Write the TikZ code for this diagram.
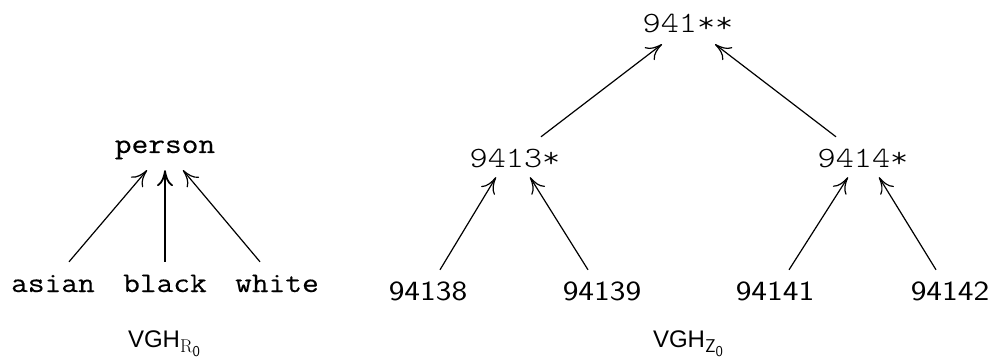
\documentclass[tikz,border=0pt]{standalone}
\usepackage{graphicx}
\usepackage{fontspec}
\newfontfamily\helv{Liberation Sans}
\newfontfamily\lmlight{Latin Modern Mono Light}
\newfontfamily\courfont[FakeBold=0.3]{Latin Modern Mono}
\usetikzlibrary{arrows.meta}
\newcommand\cour[1]{\scalebox{1.14}[1]{\fontsize{28.5}{30}\selectfont\courfont #1}}
\newcommand\lite[1]{\scalebox{1.17}[1]{\fontsize{29.5}{32}\selectfont\lmlight #1}}
\newcommand\sfd[1]{\scalebox{1.2}[1]{\fontsize{27.8}{30}\selectfont\sffamily #1}}
\newcommand\vghlab[1]{{\helv\fontsize{24}{26}\selectfont VGH}\raisebox{-5pt}{\fontsize{18.5}{19}\selectfont #1\raisebox{-4pt}{\sffamily\fontsize{15}{15}\selectfont 0}}}
\begin{document}
\begin{tikzpicture}[x=1pt,y=-1pt,
  lab/.style={inner sep=0pt, anchor=base},
  ptop/.style={lab, text height=17pt, text depth=17pt},
  pbot/.style={lab, text height=30pt, text depth=5pt},
  rtop/.style={lab, text height=18pt, text depth=11pt},
  rmid/.style={lab, text height=31pt, text depth=9pt},
  rbot/.style={lab, text height=31pt, text depth=5pt},
  arr/.style={line width=1.2pt, -{Computer Modern Rightarrow[length=16pt,width=16pt,line width=1.2pt]}},
  tharr/.style={line width=2.8pt, -{Computer Modern Rightarrow[length=16pt,width=16pt,line width=1.8pt]}}]
\useasboundingbox (0,0) rectangle (999,358);
% left hierarchy
\node[ptop] (person) at (165,153) {\cour{person}};
\node[pbot] (asian) at (53,292) {\cour{asian}};
\node[pbot] (black) at (165,292) {\cour{black}};
\node[pbot] (white) at (277,292) {\cour{white}};
\node[lab] (vghr) at (164,347) {\vghlab{\rmfamily R}};
\draw[arr] ([xshift=16pt]asian.north) -- ([xshift=-18pt]person.south);
\draw[tharr] (black.north) -- (person.south);
\draw[arr] ([xshift=-17pt]white.north) -- ([xshift=18pt]person.south);
% right hierarchy
\node[rtop] (z2) at (688,33) {\lite{941**}};
\node[rmid] (z13) at (515,168) {\lite{9413*}};
\node[rmid] (z14) at (863,168) {\lite{9414*}};
\node[rbot] (z138) at (428,301) {\sfd{94138}};
\node[rbot] (z139) at (602,301) {\sfd{94139}};
\node[rbot] (z141) at (775,301) {\sfd{94141}};
\node[rbot] (z142) at (950,301) {\sfd{94142}};
\node[lab] (vghz) at (688,347) {\vghlab{\sffamily Z}};
\draw[arr] ([xshift=26pt]z13.north) -- ([xshift=-26pt]z2.south);
\draw[arr] ([xshift=-27pt]z14.north) -- ([xshift=27pt]z2.south);
\draw[arr] ([xshift=12pt]z138.north) -- ([xshift=-19pt]z13.south);
\draw[arr] ([xshift=-14pt]z139.north) -- ([xshift=15pt]z13.south);
\draw[arr] ([xshift=14pt]z141.north) -- ([xshift=-15pt]z14.south);
\draw[arr] ([xshift=-14pt]z142.north) -- ([xshift=16pt]z14.south);
\end{tikzpicture}
\end{document}
